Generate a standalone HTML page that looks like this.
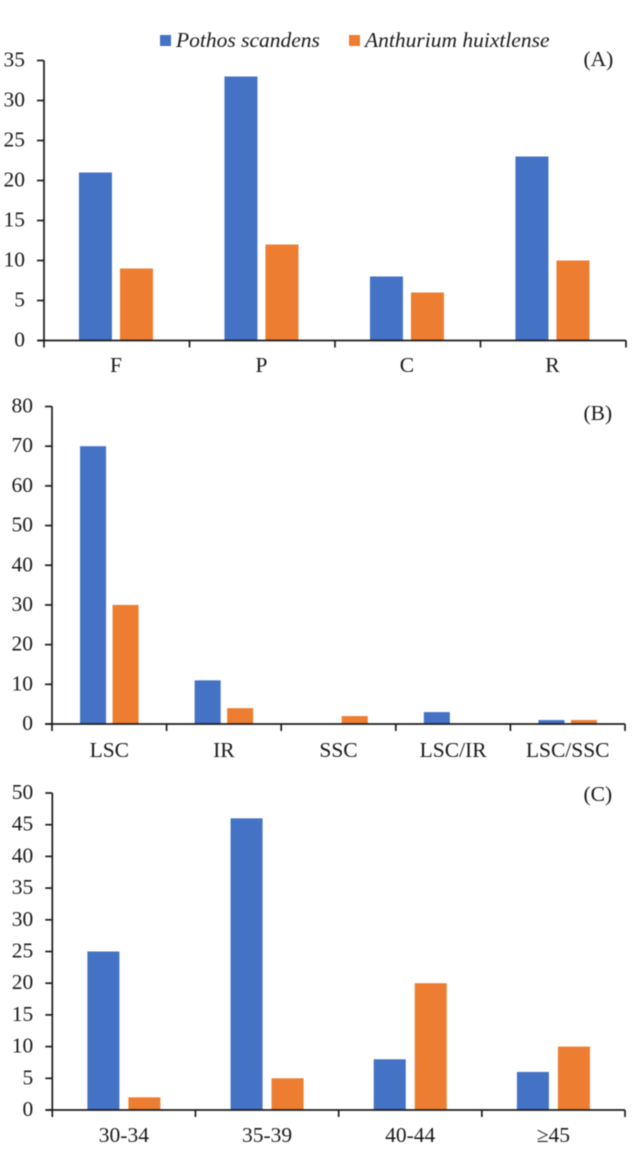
<!DOCTYPE html>
<html lang="en">
<head>
<meta charset="utf-8">
<title>Pothos scandens and Anthurium huixtlense bar charts</title>
<style>
html,body{margin:0;padding:0;background:#fff;width:644px;height:1159px;overflow:hidden}
svg{display:block;filter:blur(0.45px)}
text{font-family:"Liberation Serif",serif;font-size:21.5px;fill:#1a1a1a}
</style>
</head>
<body>
<svg id="chart" xmlns="http://www.w3.org/2000/svg" width="644" height="1159" viewBox="0 0 644 1159">
  <g>
    <rect x="160" y="35" width="11" height="11" fill="#4472C4"/>
    <text x="176" y="47" font-style="italic">Pothos scandens</text>
    <rect x="349" y="35" width="11" height="11" fill="#ED7D31"/>
    <text x="365" y="47" font-style="italic">Anthurium huixtlense</text>
  </g>
</svg>
<script>
const categoriesA = ['F', 'P', 'C', 'R'];
const pothosA = [21, 33, 8, 23];
const anthuriumA = [9, 12, 6, 10];
const ticksA = [0, 5, 10, 15, 20, 25, 30, 35];

const categoriesB = ['LSC', 'IR', 'SSC', 'LSC/IR', 'LSC/SSC'];
const pothosB = [70, 11, 0, 3, 1];
const anthuriumB = [30, 4, 2, 0, 1];
const ticksB = [0, 10, 20, 30, 40, 50, 60, 70, 80];

const categoriesC = ['30-34', '35-39', '40-44', '\u226545'];
const pothosC = [25, 46, 8, 6];
const anthuriumC = [2, 5, 20, 10];
const ticksC = [0, 5, 10, 15, 20, 25, 30, 35, 40, 45, 50];

const svg = document.getElementById('chart');
const NS = 'http://www.w3.org/2000/svg';

function make(tag, attrs, parent, content) {
  const el = document.createElementNS(NS, tag);
  for (const k in attrs) el.setAttribute(k, attrs[k]);
  if (content !== undefined) el.textContent = content;
  parent.appendChild(el);
  return el;
}

function drawPanel(id, letter, cats, s1, s2, ticks, box) {
  const g = make('g', {}, svg);
  
  

  const maxTick = ticks[ticks.length - 1];
  const y = v => box.y0 - (v / maxTick) * (box.y0 - box.yTop);
  const band = (box.x1 - box.x0) / cats.length;
  const center = i => box.x0 + band * (i + 0.5) + box.shift;

  cats.forEach((c, i) => {
    const b1 = make('rect', {x: center(i) - box.gap / 2 - box.w, y: y(s1[i]), width: box.w, height: box.y0 - y(s1[i]), fill: '#4472C4'}, g);
    
    
    const b2 = make('rect', {x: center(i) + box.gap / 2, y: y(s2[i]), width: box.w, height: box.y0 - y(s2[i]), fill: '#ED7D31'}, g);
    
    
    const lab = make('text', {x: center(i), y: box.labelY, 'text-anchor': 'middle'}, g, c);
    
    
  });

  const axisStyle = {stroke: '#1c1c1c', 'stroke-width': 1.7, fill: 'none'};
  const yAxis = make('line', Object.assign({x1: box.x0, x2: box.x0, y1: y(maxTick), y2: box.y0}, axisStyle), g);
  
  
  const xAxis = make('line', Object.assign({x1: box.x0 - 6, x2: box.x1, y1: box.y0, y2: box.y0}, axisStyle), g);
  
  

  ticks.forEach(t => {
    const tk = make('line', Object.assign({x1: box.x0 - 7, x2: box.x0, y1: y(t), y2: y(t)}, axisStyle), g);
    
    
    const lab = make('text', {x: box.x0 - 19, y: y(t) + 6, 'text-anchor': 'end'}, g, t);
    
    
  });

  for (let i = 0; i <= cats.length; i++) {
    const tx = box.x0 + band * i;
    const tk = make('line', Object.assign({x1: tx, x2: tx, y1: box.y0, y2: box.y0 + 7}, axisStyle), g);
    
    
  }

  const pl = make('text', {x: 583.5, y: box.letterY}, g, letter);
  
  
}

drawPanel('a', '(A)', categoriesA, pothosA, anthuriumA, ticksA,
  {x0: 44, x1: 626, y0: 340.5, yTop: 60.5, w: 33, gap: 8, labelY: 372, letterY: 66, shift: -0.8});
drawPanel('b', '(B)', categoriesB, pothosB, anthuriumB, ticksB,
  {x0: 52, x1: 625, y0: 724, yTop: 406.5, w: 26, gap: 6.5, labelY: 757, letterY: 420, shift: 0});
drawPanel('c', '(C)', categoriesC, pothosC, anthuriumC, ticksC,
  {x0: 52.3, x1: 625, y0: 1110, yTop: 793, w: 32, gap: 9, labelY: 1142, letterY: 801, shift: 0});
</script>
</body>
</html>
